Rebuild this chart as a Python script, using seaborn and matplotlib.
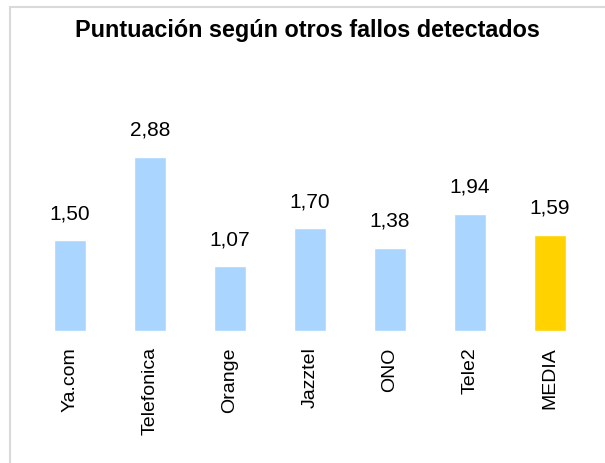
import matplotlib
matplotlib.use("Agg")
import matplotlib.pyplot as plt
import seaborn as sns
from matplotlib.patches import Rectangle

operadores = ["Ya.com", "Telefonica", "Orange", "Jazztel", "ONO", "Tele2", "MEDIA"]
puntuacion = [1.50, 2.88, 1.07, 1.70, 1.38, 1.94, 1.59]
colores = ["#A9D5FF"] * 6 + ["#FFD200"]

sns.set_style("white")
plt.rcParams["font.family"] = ["Liberation Sans", "DejaVu Sans"]
plt.rcParams["text.color"] = "black"
plt.rcParams["xtick.color"] = "black"

fig = plt.figure(figsize=(6.05, 4.64), dpi=100)
ax = fig.add_axes([30 / 605, 132 / 464, 560 / 605, 272 / 464])

sns.barplot(x=operadores, y=puntuacion, hue=operadores, palette=colores,
            width=0.4, legend=False, ax=ax, saturation=1)

for i, v in enumerate(puntuacion):
    ax.annotate(f"{v:.2f}".replace(".", ","), (i, v), xytext=(0, 13),
                textcoords="offset points", ha="center", va="bottom",
                fontsize=15, color="black")

ax.set_ylim(0, 4.5)
ax.set_xlim(-0.5, 6.5)
ax.set_yticks([])
sns.despine(ax=ax, left=True, top=True, right=True, bottom=True)
ax.tick_params(axis="x", length=0, pad=11, labelsize=14, labelcolor="black")
plt.setp(ax.get_xticklabels(), rotation=90, va="top", ha="center")
ax.set_xlabel("")

fig.text(307.5 / 605, 1 - 31 / 464, "Puntuación según otros fallos detectados",
         ha="center", va="center", fontsize=16.8, fontweight="bold", color="black")

fig.patches.append(Rectangle((10 / 605, -0.1), 1.2, 1 - 8 / 464 + 0.1,
                             transform=fig.transFigure, fill=False,
                             edgecolor="#D9D9D9", linewidth=1.5))

fig.savefig("out.png", dpi=100)
